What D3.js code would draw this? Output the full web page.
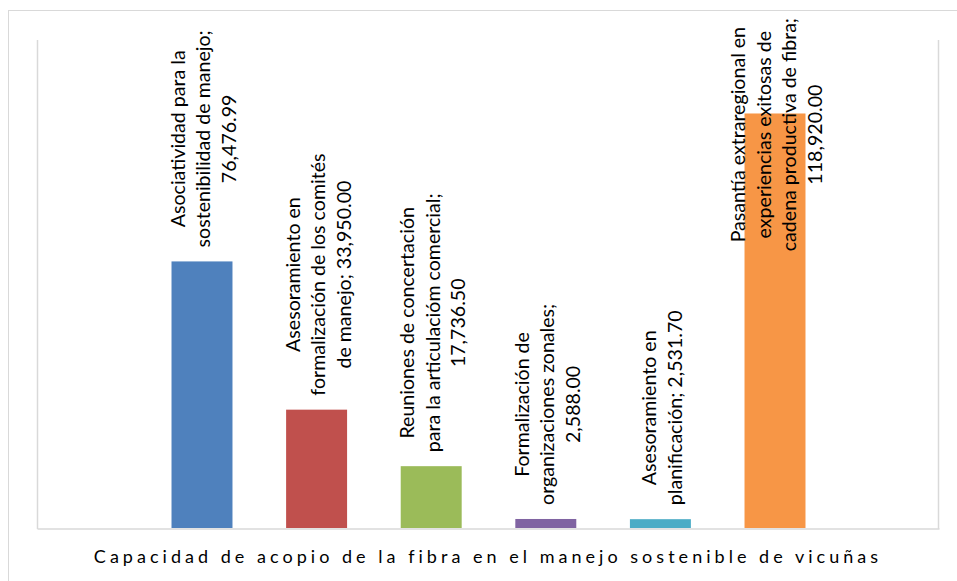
<!DOCTYPE html>
<html>
<head>
<meta charset="utf-8">
<script src="https://cdn.jsdelivr.net/npm/d3@7"></script>
<style>
  html, body { margin: 0; padding: 0; background: #fff; }
  svg { display: block; }
  text { font-family: Lato, "Open Sans", "Liberation Sans", sans-serif; fill: #000; }
</style>
</head>
<body>
<svg id="chart" width="957" height="581"></svg>
<script>
// ---- data ----
const categoryTitle = "Capacidad de acopio de la fibra en el manejo sostenible de vicuñas";
const seriesNames = [
  "Asociatividad para la sostenibilidad de manejo",
  "Asesoramiento en formalización de los comités de manejo",
  "Reuniones de concertación para la articulacióm comercial",
  "Formalización de organizaciones zonales",
  "Asesoramiento en planificación",
  "Pasantía extraregional en experiencias exitosas de cadena productiva de fibra"
];
const values = [76476.99, 33950.00, 17736.50, 2588.00, 2531.70, 118920.00];
const labelLines = [
  ["Asociatividad para la", "sostenibilidad de manejo;", "76,476.99"],
  ["Asesoramiento en", "formalización de los comités", "de manejo; 33,950.00"],
  ["Reuniones de concertación", "para la articulacióm comercial;", "17,736.50"],
  ["Formalización de", "organizaciones zonales;", "2,588.00"],
  ["Asesoramiento en", "planificación; 2,531.70"],
  ["Pasantía extraregional en", "experiencias exitosas de", "cadena productiva de fibra;", "118,920.00"]
];
const colors = ["#4f81bd", "#c0504d", "#9bbb59", "#8064a2", "#4bacc6", "#f79646"];
const yDomain = [0, 140000];

// ---- layout ----
const svg = d3.select("#chart");
const plot = { left: 38, right: 939, top: 40, bottom: 528 };

// outer chart border
svg.append("rect")
  .attr("x", 8.5).attr("y", 10.5)
  .attr("width", 960).attr("height", 600)
  .attr("fill", "none").attr("stroke", "#d9d9d9").attr("stroke-width", 1);

const x = d3.scaleBand()
  .domain(seriesNames)
  .range([plot.left, plot.right])
  .paddingInner(0.468)
  .paddingOuter(1.165);

const y = d3.scaleLinear().domain(yDomain).range([plot.bottom, plot.top]);

// plot area lines (left, right)
const g = svg.append("g");
g.append("line").attr("x1", plot.left - 0.5).attr("x2", plot.left - 0.5)
  .attr("y1", plot.top).attr("y2", plot.bottom + 1)
  .attr("stroke", "#d9d9d9").attr("stroke-width", 1.5);
g.append("line").attr("x1", plot.right - 0.5).attr("x2", plot.right - 0.5)
  .attr("y1", plot.top).attr("y2", plot.bottom + 1)
  .attr("stroke", "#d9d9d9").attr("stroke-width", 1.5);

// bars
g.selectAll("rect.bar")
  .data(seriesNames)
  .join("rect")
  .attr("class", "bar")
  .attr("x", d => x(d))
  .attr("width", x.bandwidth())
  .attr("y", (d, i) => y(values[i]))
  .attr("height", (d, i) => y(0) - y(values[i]))
  .attr("fill", (d, i) => colors[i]);

// bottom axis line
const xAxis = d3.axisBottom(d3.scaleLinear().range([plot.left - 1, plot.right])).ticks(0).tickSize(0).tickFormat("");
const ax = svg.append("g").attr("transform", `translate(0,${plot.bottom + 0.5})`).call(xAxis);
ax.select(".domain").attr("stroke", "#d9d9d9").attr("stroke-width", 1.5);

// data labels (rotated)
const fontSize = 19.6;
const lineGap = 25.5;
const labelTopLimit = 18;
seriesNames.forEach((name, i) => {
  const lines = labelLines[i];
  const cx = x(name) + x.bandwidth() / 2;
  const lab = svg.append("g");
  const texts = lines.map((ln) => lab.append("text")
      .attr("font-size", fontSize)
      .attr("text-anchor", "middle")
      .attr("dominant-baseline", "central")
      .attr("fill", "#000")
      .text(ln));
  const maxLen = d3.max(texts, t => t.node().getComputedTextLength());
  const cy = Math.max(y(values[i]) - 14 - maxLen / 2, labelTopLimit + maxLen / 2);
  const n = lines.length;
  texts.forEach((t, j) => {
    const lx = cx + 1 + (j - (n - 1) / 2) * lineGap;
    t.attr("transform", `translate(${lx},${cy}) rotate(-90)`);
  });
});

// category title
const title = svg.append("text")
  .attr("x", (plot.left + plot.right) / 2)
  .attr("y", 563)
  .attr("text-anchor", "middle")
  .attr("font-size", 18)
  .attr("fill", "#262626")
  .text(categoryTitle);
const natural = title.node().getComputedTextLength();
const targetW = 784;
const ls = (targetW - natural) / (categoryTitle.length - 1);
title.attr("letter-spacing", ls)
  .attr("x", 486 + ls / 2);
</script>
</body>
</html>
